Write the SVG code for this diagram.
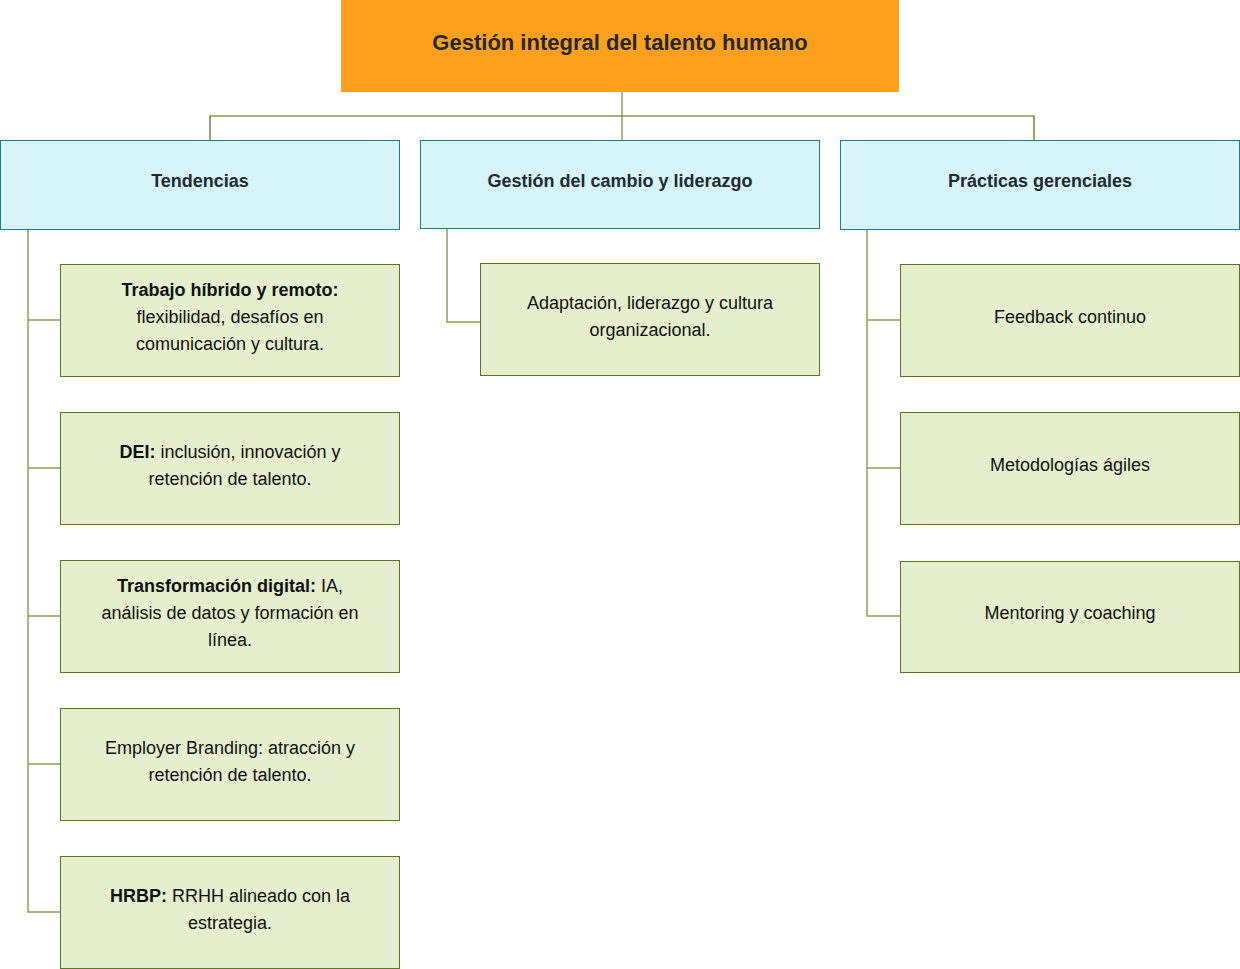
<svg xmlns="http://www.w3.org/2000/svg" width="1240" height="969" viewBox="0 0 1240 969">
<style>
.root{fill:#fe9f1e;}
.hdr{fill:#d7f4f9;stroke:#1f7a8c;stroke-width:1;}
.leaf{fill:#e5efcd;stroke:#5e7420;stroke-width:1;}
.t{font-family:"Liberation Sans",Arial,sans-serif;font-size:18px;fill:#111;text-anchor:middle;}
.h{font-family:"Liberation Sans",Arial,sans-serif;font-size:18px;font-weight:bold;fill:#222a30;text-anchor:middle;}
.rt{font-family:"Liberation Sans",Arial,sans-serif;font-size:22px;font-weight:bold;fill:#222a30;text-anchor:middle;}
.b{font-weight:bold;}
.c{fill:none;stroke:#8fa05a;stroke-width:1.5;}
.cd{fill:none;stroke:#4d6600;stroke-width:1.2;}
</style>
<rect width="1240" height="969" fill="#ffffff"/>
<g id="connectors">
<path class="c" d="M622,92 V140"/>
<path class="cd" d="M210,140 V116 H1034 V140"/>
<path class="c" d="M28,229 V912 H60 M28,320 H60 M28,468 H60 M28,616 H60 M28,764 H60"/>
<path class="c" d="M447,229 V322 H480"/>
<path class="c" d="M867,229 V616 H900 M867,320 H900 M867,468 H900"/>
</g>
<g id="root">
<rect class="root" x="341" y="0" width="558" height="92"/>
<text class="rt" x="620" y="50">Gestión integral del talento humano</text>
</g>
<g id="tendencias">
<rect class="hdr" x="0.5" y="140.5" width="399" height="89"/>
<text class="h" x="200" y="187">Tendencias</text>
</g>
<g id="cambio">
<rect class="hdr" x="420.5" y="140.5" width="399" height="88"/>
<text class="h" x="620" y="187">Gestión del cambio y liderazgo</text>
</g>
<g id="practicas">
<rect class="hdr" x="840.5" y="140.5" width="399" height="89"/>
<text class="h" x="1040" y="187">Prácticas gerenciales</text>
</g>
<g id="hibrido">
<rect class="leaf" x="60.5" y="264.5" width="339" height="112"/>
<text class="t" x="230" y="296"><tspan class="b">Trabajo híbrido y remoto:</tspan></text>
<text class="t" x="230" y="323">flexibilidad, desafíos en</text>
<text class="t" x="230" y="350">comunicación y cultura.</text>
</g>
<g id="dei">
<rect class="leaf" x="60.5" y="412.5" width="339" height="112"/>
<text class="t" x="230" y="458"><tspan class="b">DEI:</tspan> inclusión, innovación y</text>
<text class="t" x="230" y="485">retención de talento.</text>
</g>
<g id="digital">
<rect class="leaf" x="60.5" y="560.5" width="339" height="112"/>
<text class="t" x="230" y="592"><tspan class="b">Transformación digital:</tspan> IA,</text>
<text class="t" x="230" y="619">análisis de datos y formación en</text>
<text class="t" x="230" y="646">línea.</text>
</g>
<g id="employer">
<rect class="leaf" x="60.5" y="708.5" width="339" height="112"/>
<text class="t" x="230" y="754">Employer Branding: atracción y</text>
<text class="t" x="230" y="781">retención de talento.</text>
</g>
<g id="hrbp">
<rect class="leaf" x="60.5" y="856.5" width="339" height="112"/>
<text class="t" x="230" y="902"><tspan class="b">HRBP:</tspan> RRHH alineado con la</text>
<text class="t" x="230" y="929">estrategia.</text>
</g>
<g id="adaptacion">
<rect class="leaf" x="480.5" y="263.5" width="339" height="112"/>
<text class="t" x="650" y="309">Adaptación, liderazgo y cultura</text>
<text class="t" x="650" y="336">organizacional.</text>
</g>
<g id="feedback">
<rect class="leaf" x="900.5" y="264.5" width="339" height="112"/>
<text class="t" x="1070" y="323">Feedback continuo</text>
</g>
<g id="agiles">
<rect class="leaf" x="900.5" y="412.5" width="339" height="112"/>
<text class="t" x="1070" y="471">Metodologías ágiles</text>
</g>
<g id="mentoring">
<rect class="leaf" x="900.5" y="561.5" width="339" height="111"/>
<text class="t" x="1070" y="619">Mentoring y coaching</text>
</g>
</svg>
